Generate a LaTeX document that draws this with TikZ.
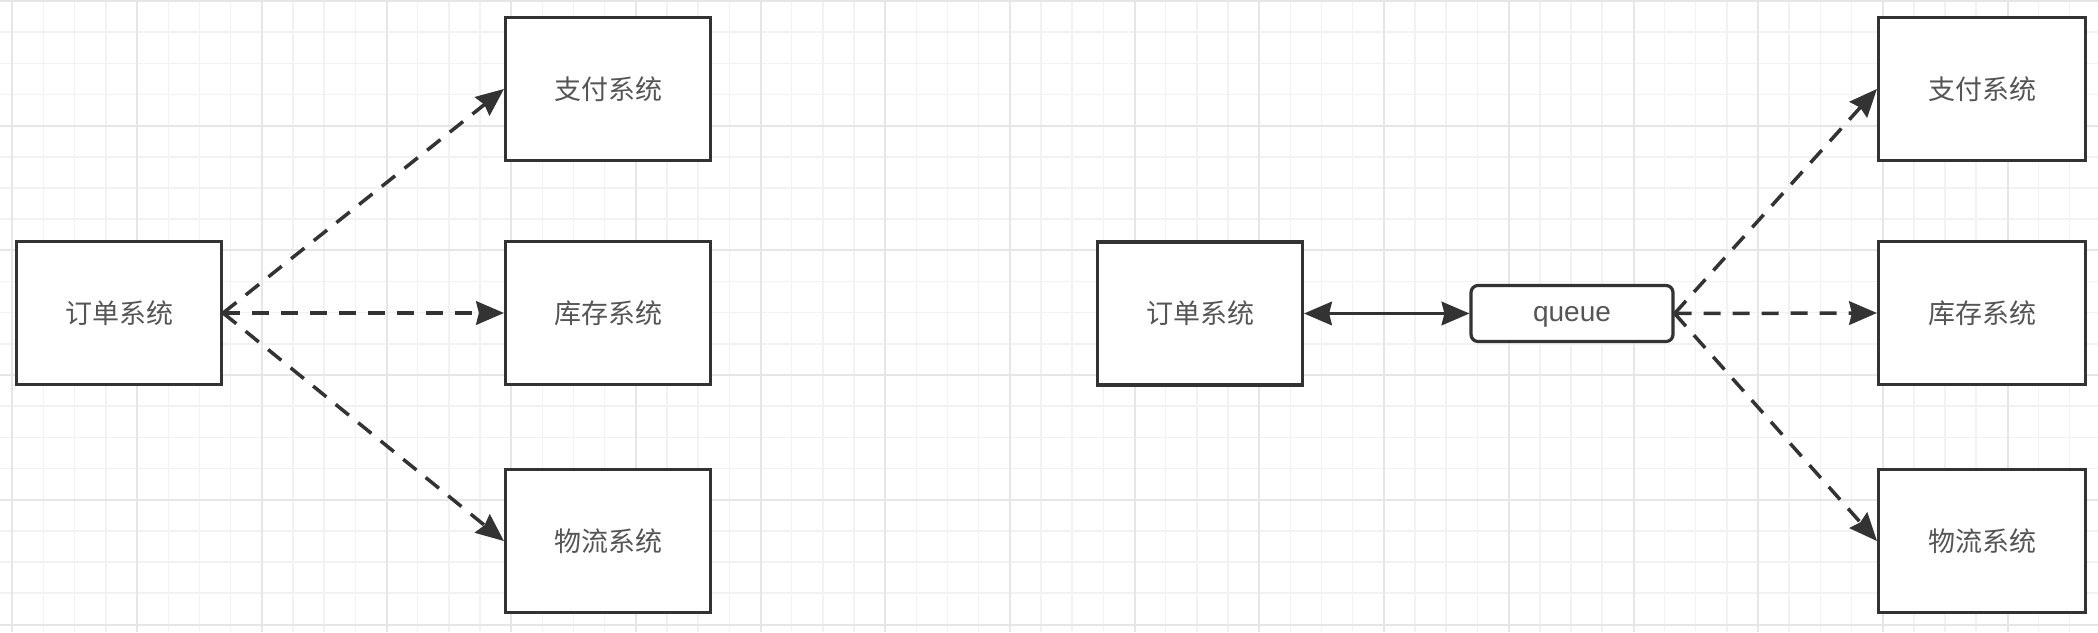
\documentclass[tikz,border=0pt]{standalone}
\usepackage{fontspec}
\newfontfamily\cjk{Noto Sans CJK SC}
\newfontfamily\latinsans{Liberation Sans}
\usetikzlibrary{arrows.meta}
\definecolor{gridminor}{HTML}{F2F2F2}
\definecolor{gridmajor}{HTML}{E6E6E6}
\definecolor{edgecol}{HTML}{333333}
\definecolor{textcol}{HTML}{555555}
\tikzset{
  tipshape/.tip={Stealth[length=28pt,width=24pt,inset=3pt,fill=edgecol,color=edgecol,line width=1.5pt]},
  sysbox/.style={draw=edgecol, line width=3.2pt, fill=white, inner sep=0pt,
    minimum width=205pt, minimum height=143pt, text=textcol,
    font=\cjk\fontsize{27}{32}\selectfont},
  queuebox/.style={draw=edgecol, line width=3.2pt, fill=white, inner sep=0pt,
    rounded corners=7pt, minimum width=202pt, minimum height=56pt, text=textcol,
    text height=15pt, text depth=0pt,
    font=\latinsans\fontsize{28}{32}\selectfont},
  dasharrow/.style={draw=edgecol, line width=3.5pt, dash pattern=on 17pt off 12pt,
    -tipshape},
  duoarrow/.style={draw=edgecol, line width=3.5pt, tipshape-tipshape}
}
\begin{document}
\begin{tikzpicture}[x=1pt,y=-1pt]
\useasboundingbox (0,0) rectangle (2098,632);
\fill[white] (0,0) rectangle (2098,632);
% grid
\foreach \i in {0,...,67} {
  \draw[gridminor, line width=1.5pt] ({12.4+31.17*\i},0) -- ({12.4+31.17*\i},632);
}
\foreach \j in {0,...,20} {
  \draw[gridminor, line width=1.5pt] (0,{1+31.17*\j}) -- (2098,{1+31.17*\j});
}
\foreach \i in {0,...,16} {
  \draw[gridmajor, line width=2pt] ({12.4+124.7*\i},0) -- ({12.4+124.7*\i},632);
}
\foreach \j in {0,...,5} {
  \draw[gridmajor, line width=2pt] (0,{1+124.7*\j}) -- (2098,{1+124.7*\j});
}
% left diagram
\node[sysbox] (lorder) at (119,313) {订单系统};
\node[sysbox] (lpay)   at (608,89)  {支付系统};
\node[sysbox] (lstock) at (608,313) {库存系统};
\node[sysbox] (llog)   at (608,541) {物流系统};
\draw[dasharrow] (lorder.east) -- (lpay.west);
\draw[dasharrow] (lorder.east) -- (lstock.west);
\draw[dasharrow] (lorder.east) -- (llog.west);
% right diagram
\node[sysbox] (rorder) at (1200,313.5) {订单系统};
\node[queuebox] (queue) at (1572,313.5) {queue};
\node[sysbox, minimum width=207pt] (rpay)   at (1982,89)  {支付系统};
\node[sysbox, minimum width=207pt] (rstock) at (1982,313) {库存系统};
\node[sysbox, minimum width=207pt] (rlog)   at (1982,541) {物流系统};
\draw[duoarrow] (rorder.east) -- (queue.west);
\draw[dasharrow] (queue.east) -- (rpay.west);
\draw[dasharrow] (queue.east) -- (rstock.west);
\draw[dasharrow] (queue.east) -- (rlog.west);
\end{tikzpicture}
\end{document}
